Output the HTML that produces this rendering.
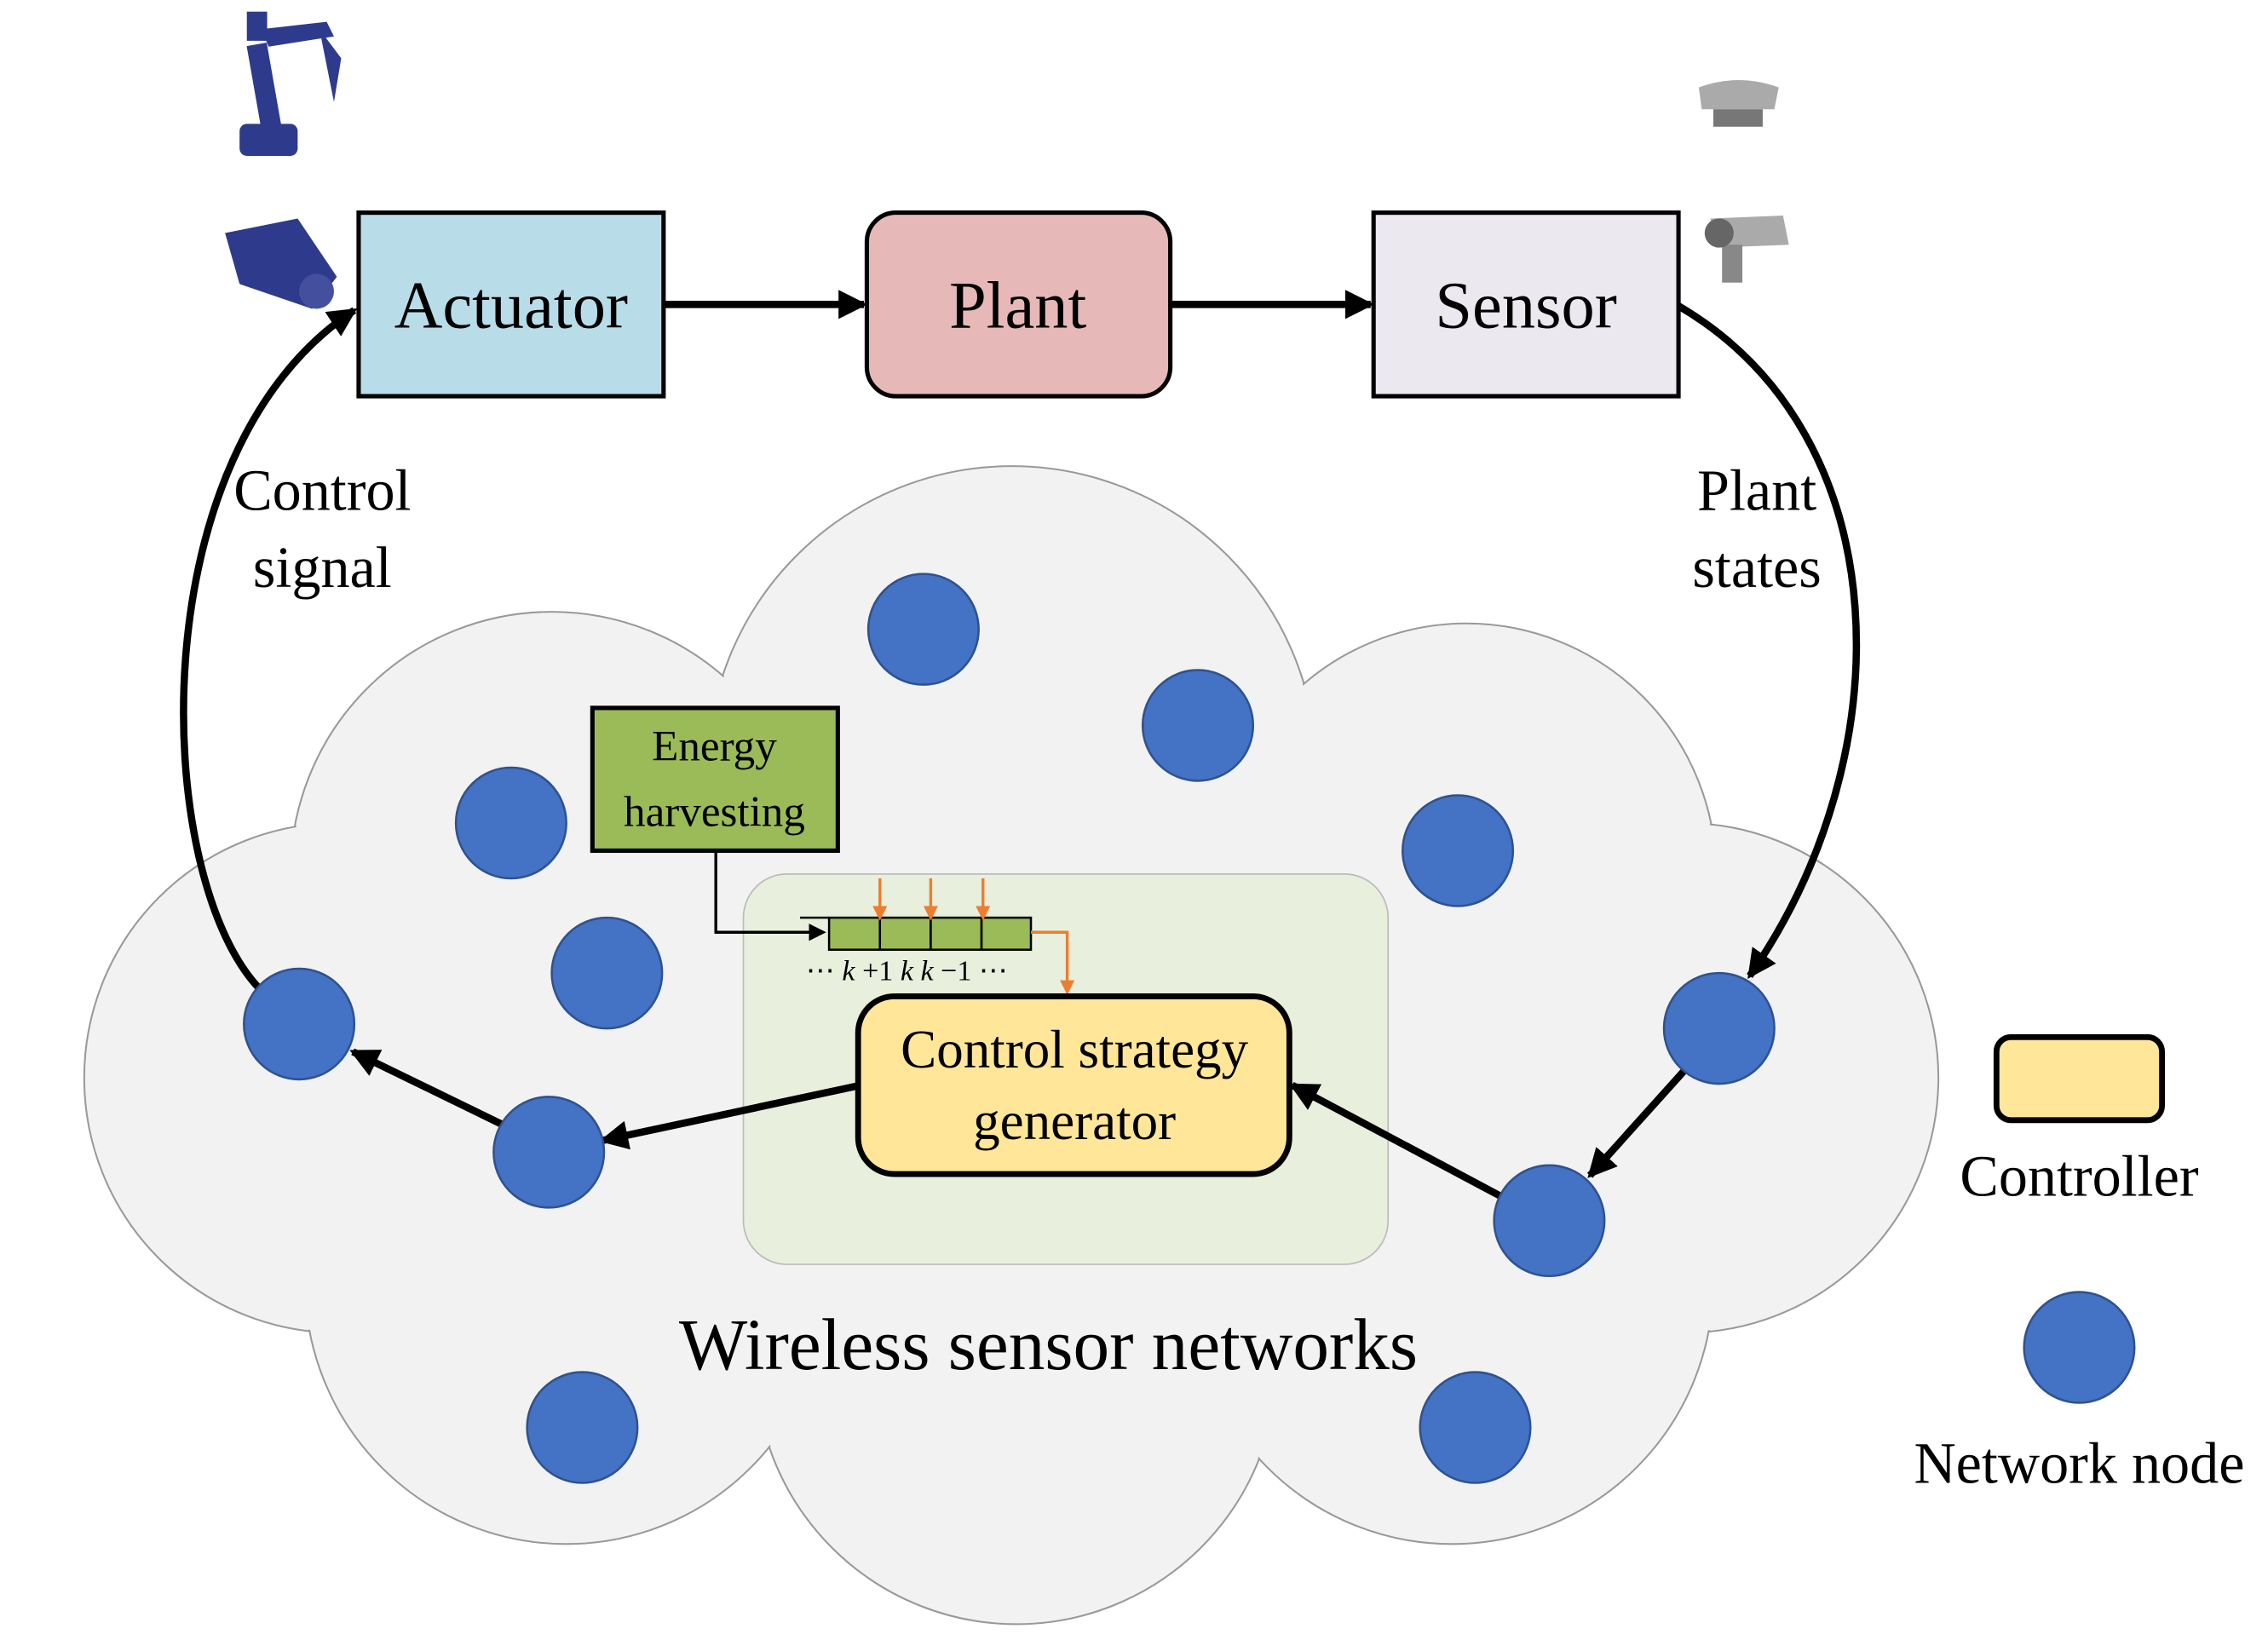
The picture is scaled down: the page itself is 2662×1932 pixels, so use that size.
<!DOCTYPE html>
<html><head><meta charset="utf-8"><style>html,body{margin:0;padding:0;background:#fff}svg{display:block}</style></head><body>
<svg width="2662" height="1932" viewBox="0 0 1562 1130" preserveAspectRatio="none" xmlns="http://www.w3.org/2000/svg" font-family="Liberation Serif, serif">
<defs>
<marker id="a" markerWidth="4" markerHeight="4" refX="3.5" refY="2" orient="auto" markerUnits="strokeWidth"><path d="M0,0 L4,2 L0,4 z" fill="#000"/></marker>
<marker id="o" markerWidth="5" markerHeight="5" refX="4" refY="2.5" orient="auto" markerUnits="strokeWidth"><path d="M0,0 L5,2.5 L0,5 z" fill="#ed7d31"/></marker>
<marker id="s" markerWidth="6" markerHeight="6" refX="5" refY="3" orient="auto" markerUnits="strokeWidth"><path d="M0,0 L6,3 L0,6 z" fill="#000"/></marker>
</defs>
<g stroke="#999" stroke-width="1.2" fill="#f2f2f2">
<circle cx="697" cy="530" r="210"/><circle cx="380" cy="600" r="180"/><circle cx="1010" cy="600" r="172"/>
<circle cx="233" cy="740" r="175"/><circle cx="1160" cy="740" r="175"/>
<circle cx="700" cy="935" r="180"/><circle cx="390" cy="880" r="180"/><circle cx="1000" cy="880" r="180"/>
</g>
<g fill="#f2f2f2">
<circle cx="697" cy="530" r="209"/><circle cx="380" cy="600" r="179"/><circle cx="1010" cy="600" r="171"/>
<circle cx="233" cy="740" r="174"/><circle cx="1160" cy="740" r="174"/>
<circle cx="700" cy="935" r="179"/><circle cx="390" cy="880" r="179"/><circle cx="1000" cy="880" r="179"/>
<rect x="300" y="560" width="800" height="400"/>
</g>
<rect x="512" y="600" width="444" height="268" rx="30" fill="#e8efdc" stroke="#bbb" stroke-width="1"/>
<rect x="247" y="146" width="210" height="126" fill="#b8dde8" stroke="#000" stroke-width="3"/>
<rect x="597" y="146" width="209" height="126" rx="20" fill="#e6b9b8" stroke="#000" stroke-width="3"/>
<rect x="946" y="146" width="210" height="126" fill="#ebe8f0" stroke="#000" stroke-width="3"/>
<g font-size="46" text-anchor="middle"><text x="352" y="225">Actuator</text><text x="701" y="225">Plant</text><text x="1051" y="225">Sensor</text></g>
<g stroke="#000" stroke-width="5" fill="none">
<line x1="457" y1="209" x2="595" y2="209" marker-end="url(#a)"/>
<line x1="806" y1="209" x2="944" y2="209" marker-end="url(#a)"/>
<path d="M178,678 C105,600 95,310 244,213" marker-end="url(#a)"/>
<path d="M1156,210 C1310,300 1310,520 1205,670" marker-end="url(#a)"/>
<line x1="1160" y1="735" x2="1095" y2="807" marker-end="url(#a)"/>
<line x1="1035" y1="822" x2="890" y2="745" marker-end="url(#a)"/>
<line x1="593" y1="745" x2="415" y2="783" marker-end="url(#a)"/>
<line x1="348" y1="773" x2="243" y2="722" marker-end="url(#a)"/>
</g>
<g font-size="40" text-anchor="middle"><text x="222" y="350">Control</text><text x="222" y="403">signal</text>
<text x="1210" y="350">Plant</text><text x="1210" y="403">states</text></g>
<rect x="408" y="486" width="169" height="98" fill="#9bbb59" stroke="#000" stroke-width="3"/>
<g font-size="30" text-anchor="middle"><text x="492" y="522">Energy</text><text x="492" y="567">harvesting</text></g>
<path d="M493,584 V640 H567" stroke="#000" stroke-width="2" fill="none" marker-end="url(#s)"/>
<line x1="551" y1="630" x2="571" y2="630" stroke="#000" stroke-width="1.5"/>
<g fill="#9bbb59" stroke="#000" stroke-width="1.5"><rect x="571" y="630" width="35" height="22"/><rect x="606" y="630" width="35" height="22"/><rect x="641" y="630" width="35" height="22"/><rect x="676" y="630" width="34" height="22"/></g>
<g stroke="#ed7d31" stroke-width="2" fill="none"><line x1="606" y1="603" x2="606" y2="630" marker-end="url(#o)"/><line x1="641" y1="603" x2="641" y2="630" marker-end="url(#o)"/><line x1="677" y1="603" x2="677" y2="630" marker-end="url(#o)"/><path d="M710,640 H735 V681" marker-end="url(#o)"/></g>
<text x="555" y="673" font-size="20">⋯ <tspan font-style="italic">k</tspan> +1  <tspan font-style="italic">k</tspan>  <tspan font-style="italic">k</tspan> −1  ⋯</text>
<rect x="591" y="684" width="297" height="122" rx="25" fill="#ffe699" stroke="#000" stroke-width="4"/>
<g font-size="37" text-anchor="middle"><text x="740" y="733">Control strategy</text><text x="740" y="782">generator</text></g>
<text x="722" y="940" font-size="50" text-anchor="middle">Wireless sensor networks</text>
<g fill="#4472c4" stroke="#2f528f" stroke-width="1.5">
<circle cx="636" cy="432" r="38"/><circle cx="825" cy="498" r="38"/><circle cx="352" cy="565" r="38"/><circle cx="1004" cy="584" r="38"/><circle cx="418" cy="668" r="38"/><circle cx="206" cy="703" r="38"/><circle cx="1184" cy="706" r="38"/><circle cx="378" cy="791" r="38"/><circle cx="1067" cy="838" r="38"/><circle cx="401" cy="980" r="38"/><circle cx="1016" cy="980" r="38"/><circle cx="1432" cy="925" r="38"/>
</g>
<rect x="1375" y="712" width="114" height="57" rx="10" fill="#ffe699" stroke="#000" stroke-width="4"/>
<g font-size="40" text-anchor="middle"><text x="1432" y="821">Controller</text><text x="1432" y="1018">Network node</text></g>
<g fill="#2e3a8c">
<rect x="165" y="85" width="40" height="22" rx="5"/><rect x="175" y="30" width="14" height="60" transform="rotate(-10 182 60)"/><path d="M180,20 L225,15 L230,25 L185,32z"/><path d="M220,20 L235,40 L230,70 L225,45z"/><rect x="170" y="8" width="14" height="20"/>
<path d="M155,160 L205,150 L232,190 L215,212 L165,195z"/><circle cx="218" cy="200" r="12" fill="#44509e"/>
</g>
<g fill="#aaa"><path d="M1170,60 Q1197,50 1225,60 L1222,75 L1172,75z"/><rect x="1180" y="75" width="34" height="12" fill="#777"/>
<path d="M1178,150 L1228,148 L1232,168 L1182,170z"/><rect x="1186" y="168" width="14" height="26" fill="#888"/><circle cx="1184" cy="160" r="10" fill="#666"/></g>
</svg>
</body></html>
